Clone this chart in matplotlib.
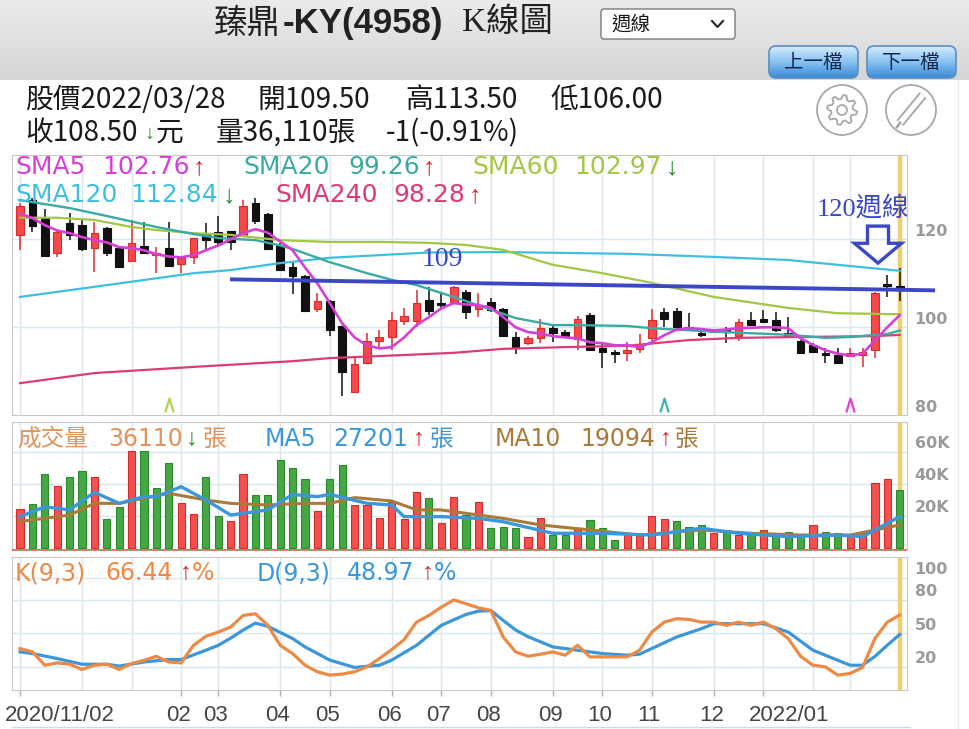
import numpy as np
import matplotlib.pyplot as plt
from matplotlib.colors import LinearSegmentedColormap
from matplotlib.patches import FancyBboxPatch, Circle, Polygon
from matplotlib.transforms import offset_copy

CJK = 'Noto Sans CJK TC'
ARROW_FONT = ['Liberation Sans', 'DejaVu Sans']
W, H = 969, 729

# ---- weekly candles 2020/11/02 .. 2022/03/28, one entry per trading week ----
opens = [120.9, 128.9, 124.8, 116.8, 123.6, 123.2, 118.0, 122.5, 118.0, 115.0,
         118.4, 116.4, 118.0, 114.3, 115.9, 121.1, 121.6, 121.8, 120.7, 128.2,
         125.7, 118.4, 113.6, 111.6, 104.1, 105.9, 100.2, 85.2, 91.8, 97.0,
         97.7, 101.4, 101.4, 106.1, 105.5, 105.7, 108.0, 104.1, 105.7, 104.1,
         97.7, 96.4, 97.5, 99.8, 98.9, 97.3, 102.7, 95.2, 94.3, 94.1,
         95.0, 97.5, 103.4, 103.6, 100.0, 98.6, 98.9, 99.3, 98.0, 101.6,
         101.8, 101.6, 98.6, 97.0, 95.9, 94.1, 93.6, 93.4, 93.6, 94.8,
         109.6, 109.5]
highs = [128.2, 129.5, 127.0, 122.0, 125.9, 124.5, 123.9, 122.7, 118.2, 124.5,
         123.9, 118.2, 123.9, 116.0, 120.3, 123.6, 125.2, 122.0, 128.9, 129.5,
         125.9, 119.1, 114.8, 111.8, 107.7, 106.1, 100.4, 93.4, 98.6, 99.5,
         103.4, 104.3, 108.4, 109.1, 107.7, 109.5, 108.4, 107.7, 106.6, 104.3,
         98.9, 98.0, 102.0, 100.5, 99.3, 102.5, 103.2, 96.4, 94.8, 96.6,
         98.4, 104.1, 104.5, 104.3, 103.2, 99.8, 99.5, 100.0, 101.8, 103.4,
         103.9, 103.4, 102.3, 97.2, 96.4, 95.2, 95.2, 95.2, 95.2, 108.0,
         112.0, 113.5]
lows = [117.5, 121.6, 116.0, 116.0, 119.8, 117.3, 112.5, 116.1, 113.4, 115.0,
        116.6, 112.3, 113.6, 112.3, 114.5, 117.5, 118.6, 117.5, 120.5, 123.4,
        117.7, 113.0, 107.5, 103.4, 103.4, 98.0, 84.5, 85.0, 91.6, 95.0,
        94.8, 100.5, 100.0, 102.7, 103.9, 105.2, 102.0, 102.3, 103.4, 97.7,
        93.9, 96.0, 96.4, 96.6, 97.5, 94.8, 94.8, 90.7, 91.8, 92.3,
        94.1, 97.0, 100.0, 99.3, 99.3, 97.7, 98.6, 96.4, 97.0, 100.2,
        100.9, 98.9, 98.0, 94.0, 94.3, 91.8, 91.8, 93.2, 90.9, 93.0,
        106.8, 106.0]
closes = [127.5, 123.0, 116.1, 121.6, 120.9, 117.7, 121.4, 117.0, 113.6, 119.1,
          117.0, 116.8, 113.9, 115.7, 120.2, 119.8, 119.3, 119.5, 127.5, 124.1,
          117.7, 113.0, 111.6, 103.6, 105.9, 99.5, 89.8, 91.6, 97.0, 97.7,
          101.6, 102.5, 105.5, 103.6, 105.0, 109.1, 103.4, 105.0, 103.9, 98.0,
          95.2, 97.5, 99.8, 98.6, 98.0, 102.0, 94.8, 94.5, 93.9, 94.8,
          95.7, 101.6, 102.0, 100.0, 99.8, 98.2, 99.3, 98.9, 101.1, 100.5,
          101.1, 99.3, 98.0, 94.1, 94.4, 93.6, 91.8, 94.1, 94.3, 107.7,
          109.5, 108.5]
# volume in thousands of 張
volume_k = [24.4, 27.7, 46.2, 38.8, 44.2, 48.3, 44.2, 18.0, 25.8, 60.6,
            60.6, 37.7, 52.9, 27.9, 21.2, 44.2, 20.0, 16.9, 46.2, 33.1,
            33.1, 55.0, 49.8, 43.1, 23.1, 43.1, 51.9, 26.9, 26.9, 19.0,
            28.5, 18.0, 35.2, 31.0, 15.8, 32.1, 20.6, 28.7, 12.3, 13.3,
            12.3, 7.1, 18.5, 8.1, 8.1, 12.3, 17.5, 12.3, 5.0, 8.1,
            8.1, 20.2, 17.9, 16.9, 13.3, 14.4, 9.2, 11.3, 8.1, 8.1,
            11.3, 8.1, 10.2, 8.1, 14.4, 10.2, 9.2, 8.1, 9.2, 40.4,
            42.9, 36.11]

sma5 = [125.9, 124.8, 123.2, 122.0, 121.4, 120.5, 119.8, 119.3, 118.2, 118.0,
        117.5, 116.6, 116.1, 115.9, 116.4, 117.5, 118.6, 120.0, 121.4, 122.3,
        121.5, 119.5, 117.5, 113.6, 110.0, 105.5, 100.9, 97.7, 95.9, 95.2,
        95.5, 97.7, 100.5, 102.3, 104.3, 105.5, 105.2, 105.0, 104.5, 102.3,
        100.0, 98.9, 98.6, 98.0, 97.7, 97.5, 96.6, 96.4, 95.9, 95.9,
        95.5, 96.6, 98.2, 99.5, 99.8, 99.6, 99.3, 99.5, 99.8, 99.9,
        100.0, 100.0, 99.8, 97.5, 96.0, 94.8, 94.0, 93.6, 94.0, 97.0,
        100.0, 102.76]
sma20_at = [0, 4, 7, 11, 14, 16, 19, 21, 22, 25, 28, 30, 32, 35, 37, 40, 43, 45,
            49, 51, 56, 62, 65, 67, 70, 71]
sma20 = [128.9, 127.1, 125.3, 122.8, 121.2, 120.3, 119.8, 118.6, 117.8, 114.8,
         112.3, 110.8, 109.6, 106.9, 105.0, 102.1, 100.5, 100.5, 100.3, 99.8,
         99.0, 98.3, 97.6, 97.8, 98.5, 99.26]
sma60_at = [0, 3, 6, 9, 11, 14, 17, 21, 25, 29, 33, 36, 39, 43, 47, 49, 51, 56,
            62, 66, 71]
sma60 = [124.9, 124.9, 124.4, 122.8, 122.1, 121.4, 121.0, 119.8, 119.4, 119.4,
         119.2, 118.7, 117.6, 114.2, 112.3, 111.2, 110.1, 106.9, 104.4, 103.2,
         102.97]
sma120_at = [0, 6, 14, 17, 21, 25, 29, 33, 39, 44, 49, 56, 62, 66, 71]
sma120 = [106.9, 109.2, 112.3, 113.0, 114.6, 115.8, 116.4, 117.0, 117.1, 116.9,
          116.7, 116.0, 115.3, 114.2, 112.84]
sma240_at = [0, 6, 14, 22, 25, 31, 35, 39, 44, 49, 54, 58, 63, 69, 71]
sma240 = [87.3, 89.6, 91.0, 92.3, 93.0, 93.7, 94.2, 95.1, 95.5, 95.8, 97.1, 97.6,
          97.8, 98.0, 98.28]

vma5_at = [0, 2, 4, 6, 8, 10, 11, 13, 15, 17, 20, 22, 24, 25, 28, 30, 31, 34, 37,
           39, 43, 47, 51, 55, 58, 62, 66, 68, 71]
vma5_k = [19.6, 25.8, 23.8, 34.8, 27.9, 32.1, 32.1, 38.3, 30.0, 20.6, 23.8, 33.5,
          32.1, 33.5, 27.9, 26.9, 19.6, 19.6, 18.5, 16.4, 9.2, 9.2, 8.1, 12.3,
          9.2, 7.1, 8.1, 7.1, 19.6]
vma10_at = [0, 4, 6, 8, 12, 15, 17, 20, 23, 25, 27, 30, 32, 34, 37, 39, 42, 46,
            50, 55, 59, 63, 67, 71]
vma10_k = [16.5, 20.6, 27.9, 27.9, 34.2, 30.0, 27.9, 26.9, 27.9, 27.9, 31.5, 29.4,
           23.8, 23.8, 20.6, 18.5, 14.4, 11.3, 8.1, 11.3, 9.2, 8.1, 8.1, 14.4]

k_val = [36.3, 33.3, 21.3, 23.4, 22.2, 17.5, 21.3, 22.2, 17.5, 22.8,
         25.7, 29.3, 24.2, 23.4, 39.2, 47.3, 51.2, 55.6, 66.1, 67.6,
         57.2, 39.2, 31.8, 21.3, 15.4, 12.4, 13.3, 15.4, 19.8, 27.3,
         35.4, 44.3, 60.1, 66.1, 73.5, 80.1, 76.6, 73.0, 70.6, 46.7,
         33.3, 29.4, 31.2, 33.3, 30.3, 39.3, 28.8, 28.8, 28.8, 28.8,
         34.8, 51.2, 60.1, 63.2, 62.5, 60.1, 60.1, 57.2, 60.1, 57.2,
         60.1, 54.2, 45.3, 29.4, 21.3, 19.8, 12.4, 13.9, 19.3, 45.3,
         60.1, 66.44]
d_at = [0, 1, 3, 5, 7, 8, 10, 12, 13, 15, 16, 17, 18, 19, 20, 22, 23, 25, 27, 29,
        30, 32, 34, 36, 37, 38, 39, 40, 41, 43, 45, 47, 49, 50, 53, 55, 56, 60,
        62, 64, 67, 68, 69, 70, 71]
d_val = [33.3, 31.8, 27.3, 22.2, 22.2, 20.5, 24.2, 26.4, 26.4, 34.8, 39.2, 45.7,
         52.9, 59.2, 56.3, 45.3, 37.8, 25.9, 19.3, 21.3, 25.9, 39.2, 57.2, 67.0,
         70.0, 70.6, 61.6, 53.0, 47.0, 37.8, 34.8, 31.8, 30.3, 31.2, 46.7, 54.2,
         58.7, 58.7, 51.2, 34.8, 21.3, 21.3, 29.2, 39.3, 48.97]

month_at = [0, 5, 9, 13, 16, 21, 25, 30, 34, 38, 43, 47, 51, 56, 60, 64, 67]
tick_at = [0, 13, 16, 21, 25, 30, 34, 38, 43, 47, 51, 56, 60]
tick_lbl = ['2020/11/02', '02', '03', '04', '05', '06', '07', '08', '09', '10',
            '11', '12', '2022/01']
signal_at = [12, 52, 67]
signal_col = ['#b5d152', '#3bb5b0', '#e040e0']

# colours
c5, c20, c60, c120, c240 = '#d63fd6', '#3aaba2', '#a3c644', '#3fbfdf', '#dc3b78'
RED, GREEN = '#d9262c', '#2b8a2b'
cvol, cma5, cma10 = '#e0935a', '#3b97d9', '#a97a3a'
ck, cd = '#ec8a46', '#3b97d9'
GRID, SPINE, ANN, YEL = '#dbe6ef', '#c8c8c8', '#3b47c4', '#f2cf6e'

fig = plt.figure(figsize=(9.69, 7.29), dpi=100)
fig.patch.set_facecolor('white')

# pixel-coordinate overlay for page decoration
deco = fig.add_axes([0, 0, 1, 1])
deco.set_zorder(-5)
deco.axis('off')

def T(x, y, s, color='#1a1a1a', size=17, family='DejaVu Sans', **kw):
    kw.setdefault('va', 'center')
    kw.setdefault('ha', 'left')
    fig.text(x, y, s, transform=deco.transData, color=color, fontsize=size,
             family=family, **kw)

def arrow(xc, y, ch, color, size=16):
    T(xc, y, ch, color=color, size=size, family=ARROW_FONT, ha='center')

# header bar
hdr = LinearSegmentedColormap.from_list('hdr', ['#ebebeb', '#d6d6d6'])
deco.imshow(np.linspace(0, 1, 80)[:, None], extent=(0, W, 80, 0), cmap=hdr,
            aspect='auto')
btn_cm = LinearSegmentedColormap.from_list('btn', ['#d4ebfc', '#86c2f1', '#3d8bd6'])
for bx, txt in [(769, '上一檔'), (867, '下一檔')]:
    patch = FancyBboxPatch((bx, 46), 89, 32, boxstyle='round,pad=0,rounding_size=7',
                           fc='none', ec='#5b8fc4', lw=1.2, zorder=3)
    deco.add_patch(patch)
    im = deco.imshow(np.linspace(0, 1, 32)[:, None], extent=(bx, bx + 89, 78, 46),
                     cmap=btn_cm, aspect='auto', zorder=2)
    im.set_clip_path(patch)
    T(bx + 44.5, 62, txt, color='#13244f', size=14, family=CJK, ha='center')

deco.add_patch(FancyBboxPatch((601, 9), 134, 30, boxstyle='round,pad=0,rounding_size=3',
                              fc='white', ec='#7a7a7a', lw=1))
T(611, 24, '週線', size=14, family=CJK)
deco.plot([712, 717.5, 723], [21, 27, 21], color='#222222', lw=1.5)

T(214, 23, '臻鼎', size=24, family=CJK, color='#222222')
T(283, 23, '-KY(4958)', size=25, family='Liberation Sans', weight='bold',
  color='#222222')
T(462, 23, 'K線圖', size=24, family=['Liberation Serif', CJK], color='#222222')

# quote info
for x, s in [(25, '股價2022/03/28'), (258, '開109.50'), (405, '高113.50'),
             (550, '低106.00')]:
    T(x, 100, s, size=20, family=CJK)
T(25, 133, '收108.50', size=20, family=CJK)
arrow(149, 134, '↓', GREEN, size=14)
T(156, 133, '元', size=20, family=CJK)
T(216, 133, '量36,110張', size=20, family=CJK)
T(386, 133, '-1(-0.91%)', size=20, family=CJK)

# gear + pencil icons
gx, gy = 842, 110
deco.add_patch(Circle((gx, gy), 25, fill=False, ec='#a8a8a8', lw=1.3))
ang = np.linspace(0, 2 * np.pi, 33)[:-1] + np.pi / 32
rad = np.tile([15, 15, 11, 11], 8)
deco.add_patch(Polygon(np.c_[gx + rad * np.cos(ang), gy + rad * np.sin(ang)],
                       closed=True, fill=False, ec='#a8a8a8', lw=1.3))
deco.add_patch(Circle((gx, gy), 5, fill=False, ec='#a8a8a8', lw=1.3))
px_, py_ = 911, 110
deco.add_patch(Circle((px_, py_), 25, fill=False, ec='#a8a8a8', lw=1.3))
deco.plot([900, 923], [123, 95], color='#a8a8a8', lw=6.5, solid_capstyle='butt')
deco.plot([900, 923], [123, 95], color='white', lw=3.8, solid_capstyle='butt')
deco.plot([897, 900], [127, 123], color='#a8a8a8', lw=2)

deco.plot([12, 910], [727, 727], color='#cfdbe6', lw=1)
deco.plot([958, 958], [80, H], color='#ececec', lw=1)
deco.set_xlim(0, W)
deco.set_ylim(H, 0)

# ---- chart panels ----
L, Wd = 12 / W, 894.5 / W
ax_p = fig.add_axes([L, (H - 415.3) / H, Wd, 260.3 / H])
ax_v = fig.add_axes([L, (H - 550) / H, Wd, 128 / H])
ax_k = fig.add_axes([L, (H - 690) / H, Wd, 133 / H])

xs = np.arange(len(closes))
for ax in (ax_p, ax_v, ax_k):
    ax.set_xlim(-0.65, 71.55)
    ax.set_facecolor('white')
    for sp in ax.spines.values():
        sp.set_color(SPINE)
    ax.set_yticks([])
    ax.set_xticks([])
    for m in month_at:
        ax.axvline(m, color=GRID, lw=1, zorder=0)
    ax.axvline(xs[-1], color=YEL, lw=3.2, zorder=1)

ax_p.set_ylim(80, 139.16)
ax_v.set_ylim(-1250, 78750)
ax_k.set_ylim(-1, 118.7)
for v in (100, 120):
    ax_p.axhline(v, color=GRID, lw=1, zorder=0)
for v in (20000, 40000, 60000):
    ax_v.axhline(v, color=GRID, lw=1, zorder=0)
for v in (20, 50, 80, 100):
    ax_k.axhline(v, color=GRID, lw=1, zorder=0)

def right_labels(ax, vals, texts):
    tr = offset_copy(ax.get_yaxis_transform(), fig=fig, y=5.8, units='points')
    for v, t in zip(vals, texts):
        ax.text(1.009, v, t, transform=tr, ha='left', va='center', fontsize=11.5,
                color='#9a9a9a', weight='bold')

right_labels(ax_p, [120, 100, 80], ['120', '100', '80'])
right_labels(ax_v, [60000, 40000, 20000], ['60K', '40K', '20K'])
right_labels(ax_k, [100, 80, 50, 20], ['100', '80', '50', '20'])

# candles
for i in xs:
    o, h, l, c = opens[i], highs[i], lows[i], closes[i]
    up = c >= o
    col = '#f64848' if up else '#111111'
    ax_p.vlines(i, l, h, color='#e02c2c' if up else '#111111', lw=1.1, zorder=2)
    ax_p.bar(i, max(abs(c - o), 0.25), bottom=min(o, c), width=0.62, color=col,
             edgecolor='#d92b2b' if up else '#111111', lw=0.8, zorder=2)

ax_p.plot(sma240_at, sma240, color=c240, lw=1.6, zorder=3)
ax_p.plot(sma120_at, sma120, color=c120, lw=1.6, zorder=3)
ax_p.plot(sma60_at, sma60, color=c60, lw=1.6, zorder=3)
ax_p.plot(sma20_at, sma20, color=c20, lw=1.7, zorder=3)
ax_p.plot(xs, sma5, color=c5, lw=1.9, zorder=3)

for i, col in zip(signal_at, signal_col):
    ax_p.plot(i, 82.3, marker=[(-0.6, -1), (0, 1), (0.6, -1)], ms=10, mfc='none',
              mec=col, mew=1.6, zorder=3)

# hand-drawn annotations
ax_p.plot([16.95, 73.85], [110.9, 108.4], color=ANN, lw=2.8, zorder=4,
          clip_on=False, solid_capstyle='butt')
ax_p.text(34.1, 115.3, '109', color=ANN, fontsize=20, family='Liberation Serif',
          ha='center', va='center', zorder=5)
ax_p.text(68.0, 127.1, '120週線', color=ANN, fontsize=19,
          family=['Liberation Serif', CJK], ha='center', va='center', zorder=5)
acx, sh, hh, top, neck, tip = 69.25, 0.85, 1.9, 123.0, 119.1, 114.6
ax_p.add_patch(Polygon([(acx - sh, top), (acx + sh, top), (acx + sh, neck),
                        (acx + hh, neck), (acx, tip), (acx - hh, neck),
                        (acx - sh, neck)], closed=True, fill=False, ec=ANN, lw=2.4,
                       joinstyle='miter', zorder=5, clip_on=False))

# volume
prev = [opens[0]] + closes[:-1]
for i in xs:
    up = closes[i] > prev[i]
    ax_v.bar(i, volume_k[i] * 1000, width=0.58,
             color='#f45050' if up else '#45a845',
             edgecolor='#d42b2b' if up else '#2a8a2a', lw=0.8, zorder=2)
ax_v.plot(vma10_at, np.array(vma10_k) * 1000, color=cma10, lw=2.2, zorder=3)
ax_v.plot(vma5_at, np.array(vma5_k) * 1000, color=cma5, lw=2.4, zorder=3)
ax_v.spines['bottom'].set_visible(False)
ax_v.plot([0, 1], [0, 0], transform=ax_v.transAxes, color='#ee5555', lw=1.2,
          ls=(0, (3, 3)), clip_on=False, zorder=4)
ax_v.plot([0, 1], [0, 0], transform=ax_v.transAxes, color='#44aa44', lw=1.2,
          ls=(3, (3, 3)), clip_on=False, zorder=4)

# KD
ax_k.plot(d_at, d_val, color=cd, lw=2.3, zorder=3)
ax_k.plot(xs, k_val, color=ck, lw=2.3, zorder=3)
ax_k.set_xticks(tick_at)
ax_k.set_xticklabels([])
ax_k.tick_params(axis='x', length=4, width=1, color='#b0b0b0')
lbl_tr = offset_copy(ax_k.get_xaxis_transform(), fig=fig, x=-15 * 0.72, units='points')
for t, s in zip(tick_at, tick_lbl):
    ax_k.text(t, -0.188, s, transform=lbl_tr, ha='left', va='center', fontsize=16,
              family='Liberation Sans', color='#454545')

# panel headers
for x, s, col in [(15, 'SMA5', c5), (102, '102.76', c5), (243, 'SMA20', c20),
                  (348, '99.26', c20), (472, 'SMA60', c60), (574, '102.97', c60)]:
    T(x, 167, s, color=col, size=18)
arrow(198.5, 167, '↑', RED, 18)
arrow(429, 167, '↑', RED, 18)
arrow(672, 167, '↓', GREEN, 18)
for x, s, col in [(15, 'SMA120', c120), (130, '112.84', c120),
                  (275, 'SMA240', c240), (393, '98.28', c240)]:
    T(x, 195, s, color=col, size=18)
arrow(229, 195, '↓', GREEN, 18)
arrow(475, 195, '↑', RED, 18)

for x, s, col, fam in [(17, '成交量', cvol, CJK), (108, '36110', cvol, None),
                       (203, '張', cvol, CJK), (265, 'MA5', cma5, None),
                       (333, '27201', cma5, None), (430, '張', cma5, CJK),
                       (495, 'MA10', cma10, None), (580, '19094', cma10, None),
                       (675, '張', cma10, CJK)]:
    T(x, 439, s, color=col, family=fam or 'DejaVu Sans')
arrow(192, 439, '↓', GREEN, 17)
arrow(418.5, 439, '↑', RED, 17)
arrow(665.5, 439, '↑', RED, 17)

for x, s, col in [(15, 'K(9,3)', ck), (105, '66.44', ck), (192, '%', ck),
                  (257, 'D(9,3)', cd), (347, '48.97', cd), (434, '%', cd)]:
    T(x, 573, s, color=col)
arrow(185.5, 573, '↑', RED, 17)
arrow(428, 573, '↑', RED, 17)

fig.savefig('out.png', dpi=100)
